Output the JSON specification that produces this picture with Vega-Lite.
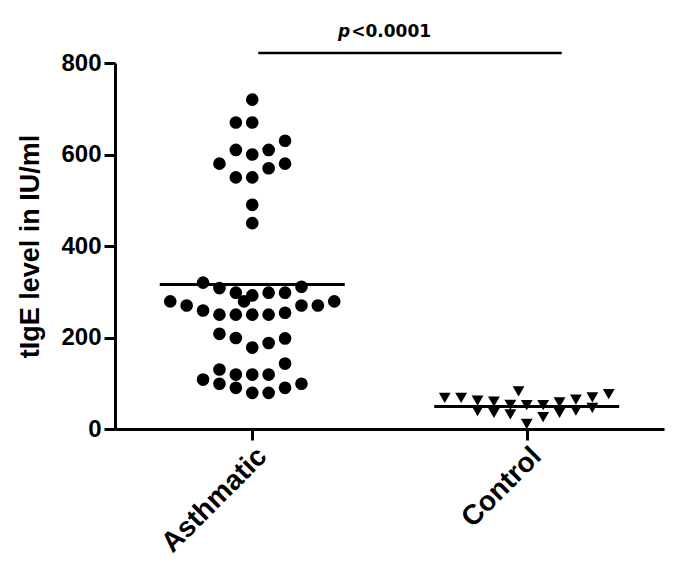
{
  "$schema": "https://vega.github.io/schema/vega-lite/v6.json",
  "width": 549,
  "height": 366,
  "autosize": "none",
  "padding": {"left": 115, "top": 63, "right": 20, "bottom": 157},
  "background": "white",
  "config": {"view": {"stroke": null}, "font": "Liberation Sans"},
  "datasets": {
    "points": [
      {"group": "Asthmatic", "col": 0, "value": 720},
      {"group": "Asthmatic", "col": -1, "value": 670},
      {"group": "Asthmatic", "col": 0, "value": 670},
      {"group": "Asthmatic", "col": 2, "value": 630},
      {"group": "Asthmatic", "col": -1, "value": 610},
      {"group": "Asthmatic", "col": 1, "value": 610},
      {"group": "Asthmatic", "col": 0, "value": 600},
      {"group": "Asthmatic", "col": -2, "value": 580},
      {"group": "Asthmatic", "col": 2, "value": 580},
      {"group": "Asthmatic", "col": 1, "value": 570},
      {"group": "Asthmatic", "col": -1, "value": 550},
      {"group": "Asthmatic", "col": 0, "value": 550},
      {"group": "Asthmatic", "col": 0, "value": 490},
      {"group": "Asthmatic", "col": 0, "value": 450},
      {"group": "Asthmatic", "col": -3, "value": 320},
      {"group": "Asthmatic", "col": -2, "value": 308},
      {"group": "Asthmatic", "col": -1, "value": 298},
      {"group": "Asthmatic", "col": 0, "value": 292},
      {"group": "Asthmatic", "col": -0.5, "value": 279},
      {"group": "Asthmatic", "col": 1, "value": 298},
      {"group": "Asthmatic", "col": 2, "value": 298},
      {"group": "Asthmatic", "col": 3, "value": 311},
      {"group": "Asthmatic", "col": -5, "value": 279},
      {"group": "Asthmatic", "col": -4, "value": 270},
      {"group": "Asthmatic", "col": -3, "value": 259},
      {"group": "Asthmatic", "col": -2, "value": 250},
      {"group": "Asthmatic", "col": -1, "value": 250},
      {"group": "Asthmatic", "col": 0, "value": 250},
      {"group": "Asthmatic", "col": 1, "value": 250},
      {"group": "Asthmatic", "col": 2, "value": 254},
      {"group": "Asthmatic", "col": 3, "value": 270},
      {"group": "Asthmatic", "col": 4, "value": 270},
      {"group": "Asthmatic", "col": 5, "value": 279},
      {"group": "Asthmatic", "col": -2, "value": 208},
      {"group": "Asthmatic", "col": -1, "value": 199},
      {"group": "Asthmatic", "col": 0, "value": 178},
      {"group": "Asthmatic", "col": 1, "value": 188},
      {"group": "Asthmatic", "col": 2, "value": 198},
      {"group": "Asthmatic", "col": 2, "value": 143},
      {"group": "Asthmatic", "col": -2, "value": 130},
      {"group": "Asthmatic", "col": -1, "value": 119},
      {"group": "Asthmatic", "col": 0, "value": 119},
      {"group": "Asthmatic", "col": 1, "value": 119},
      {"group": "Asthmatic", "col": -3, "value": 108},
      {"group": "Asthmatic", "col": -2, "value": 99},
      {"group": "Asthmatic", "col": -1, "value": 90},
      {"group": "Asthmatic", "col": 0, "value": 79},
      {"group": "Asthmatic", "col": 1, "value": 79},
      {"group": "Asthmatic", "col": 2, "value": 90},
      {"group": "Asthmatic", "col": 3, "value": 99},
      {"group": "Control", "col": -5, "value": 68},
      {"group": "Control", "col": -4, "value": 68},
      {"group": "Control", "col": -3, "value": 62},
      {"group": "Control", "col": -3, "value": 39},
      {"group": "Control", "col": -2, "value": 60},
      {"group": "Control", "col": -2, "value": 35},
      {"group": "Control", "col": -1, "value": 53},
      {"group": "Control", "col": -1, "value": 32},
      {"group": "Control", "col": -0.5, "value": 82},
      {"group": "Control", "col": 0, "value": 52},
      {"group": "Control", "col": 0, "value": 11},
      {"group": "Control", "col": 1, "value": 52},
      {"group": "Control", "col": 1, "value": 26},
      {"group": "Control", "col": 2, "value": 58},
      {"group": "Control", "col": 2, "value": 35},
      {"group": "Control", "col": 3, "value": 64},
      {"group": "Control", "col": 3, "value": 40},
      {"group": "Control", "col": 4, "value": 69},
      {"group": "Control", "col": 4, "value": 46},
      {"group": "Control", "col": 5, "value": 76}
    ],
    "medians": [
      {"group": "Asthmatic", "median": 316},
      {"group": "Control", "median": 49}
    ]
  },
  "layer": [
    {
      "data": {"name": "points"},
      "mark": {"type": "point", "filled": true, "opacity": 1, "color": "black"},
      "encoding": {
        "x": {
          "field": "group",
          "type": "nominal",
          "scale": {"type": "point", "domain": ["Asthmatic", "Control"], "padding": 0.5},
          "axis": {
            "title": null,
            "labelAngle": -45,
            "labelAlign": "right",
            "labelBaseline": "top",
            "labelFont": "Liberation Sans",
            "labelFontWeight": "bold",
            "labelFontSize": 28,
            "labelColor": "black",
            "labelPadding": 2,
            "domainColor": "black",
            "domainWidth": 3,
            "tickColor": "black",
            "tickWidth": 3,
            "tickSize": 11,
            "grid": false
          }
        },
        "xOffset": {
          "field": "col",
          "type": "quantitative",
          "scale": {"domain": [-10, 10], "range": [-164, 164]}
        },
        "y": {
          "field": "value",
          "type": "quantitative",
          "scale": {"domain": [0, 800], "nice": false},
          "axis": {
            "title": "tIgE level in IU/ml",
            "titleFont": "Liberation Sans",
            "titleFontWeight": "bold",
            "titleFontSize": 27,
            "titleColor": "black",
            "titlePadding": 16,
            "values": [0, 200, 400, 600, 800],
            "labelFont": "Liberation Sans",
            "labelFontWeight": "bold",
            "labelFontSize": 24,
            "labelColor": "black",
            "labelPadding": 3,
            "domainColor": "black",
            "domainWidth": 3,
            "tickColor": "black",
            "tickWidth": 3,
            "tickSize": 11,
            "grid": false
          }
        },
        "shape": {
          "field": "group",
          "type": "nominal",
          "scale": {"domain": ["Asthmatic", "Control"], "range": ["circle", "triangle-down"]},
          "legend": null
        },
        "size": {
          "field": "group",
          "type": "nominal",
          "scale": {"domain": ["Asthmatic", "Control"], "range": [160, 140]},
          "legend": null
        }
      }
    },
    {
      "data": {"name": "medians"},
      "mark": {"type": "tick", "orient": "horizontal", "size": 185, "thickness": 3, "color": "black", "opacity": 1},
      "encoding": {
        "x": {"field": "group", "type": "nominal"},
        "y": {"field": "median", "type": "quantitative"}
      }
    },
    {
      "data": {"values": [{}]},
      "mark": {"type": "rule", "color": "black", "strokeWidth": 2.5, "xOffset": 6, "x2Offset": 35},
      "encoding": {
        "x": {"datum": "Asthmatic", "type": "nominal"},
        "x2": {"datum": "Control"},
        "y": {"datum": 822, "type": "quantitative"}
      }
    },
    {
      "data": {"values": [{}]},
      "mark": {"type": "text", "text": "p", "font": "DejaVu Sans", "fontStyle": "italic", "fontWeight": "bold", "fontSize": 17, "align": "right", "baseline": "alphabetic", "dx": 98, "color": "black"},
      "encoding": {
        "x": {"datum": "Asthmatic", "type": "nominal"},
        "y": {"datum": 857, "type": "quantitative"}
      }
    },
    {
      "data": {"values": [{}]},
      "mark": {"type": "text", "text": "<0.0001", "font": "DejaVu Sans", "fontWeight": "bold", "fontSize": 17, "align": "left", "baseline": "alphabetic", "dx": 99, "color": "black"},
      "encoding": {
        "x": {"datum": "Asthmatic", "type": "nominal"},
        "y": {"datum": 857, "type": "quantitative"}
      }
    }
  ]
}
